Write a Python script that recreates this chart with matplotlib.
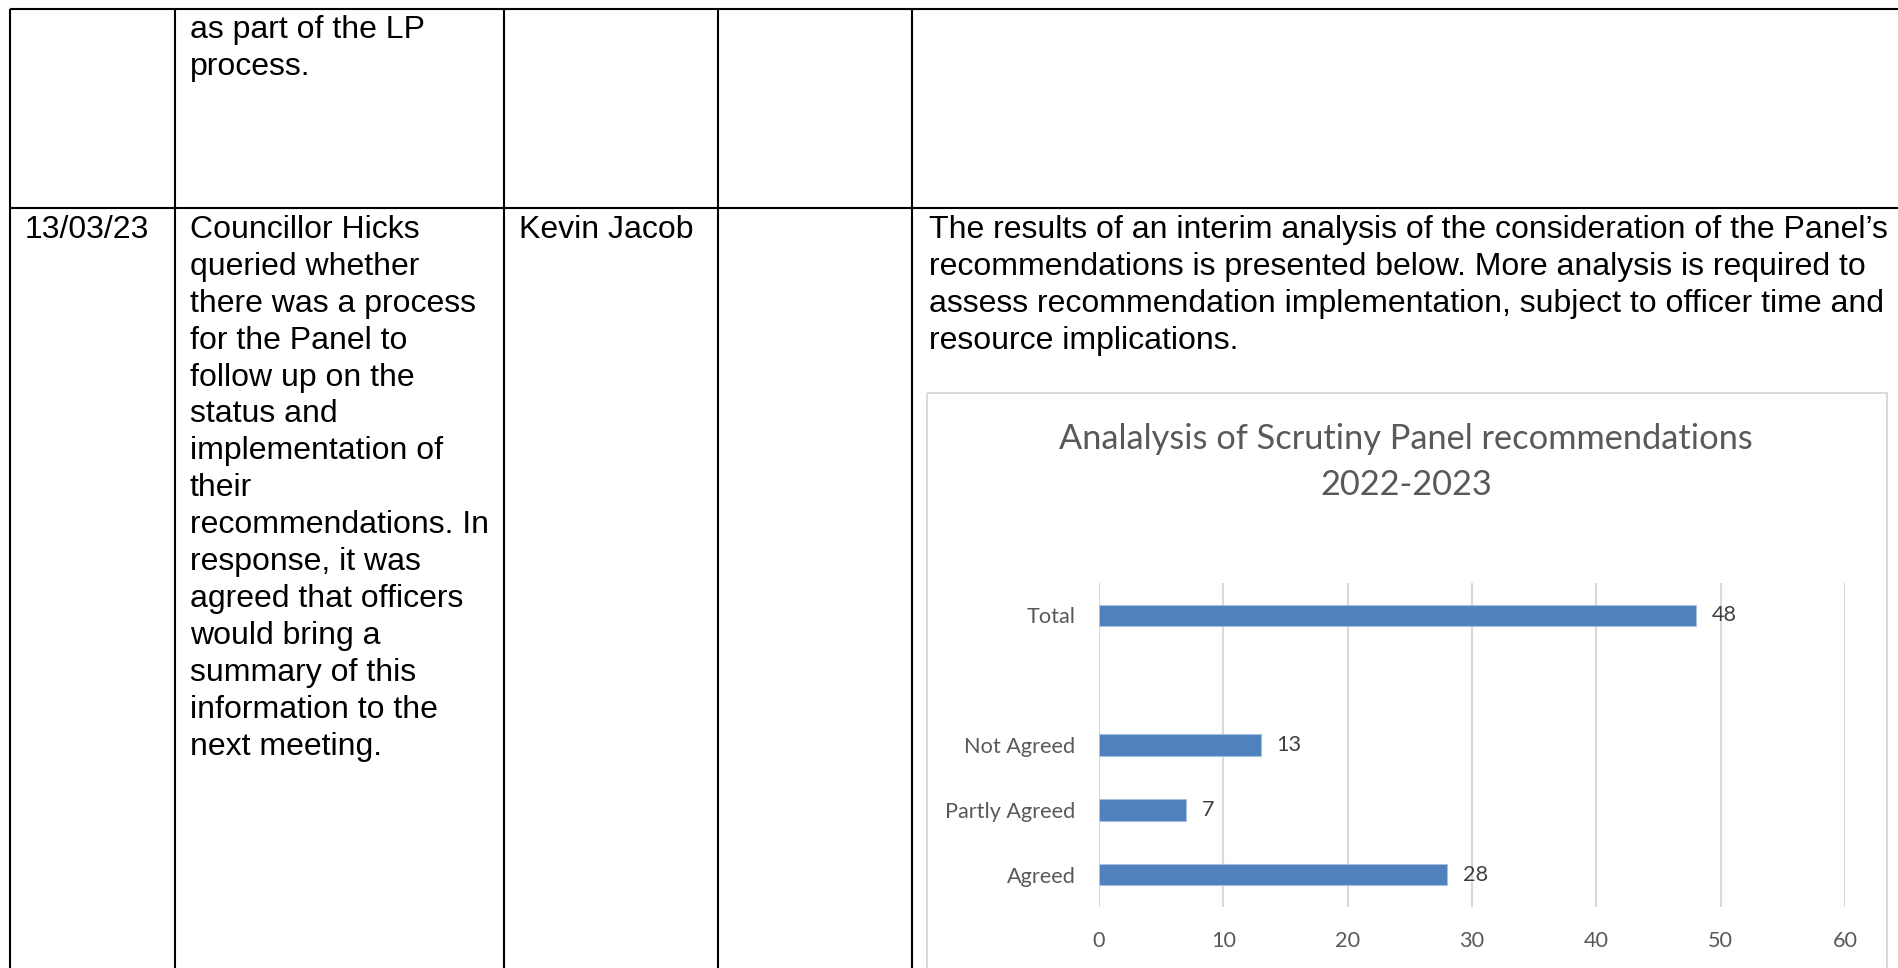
import matplotlib
matplotlib.use("Agg")
import matplotlib.pyplot as plt
from matplotlib.patches import Rectangle

# ---------------- data ----------------
categories = ["Agreed", "Partly Agreed", "Not Agreed", "", "Total"]
values = [28, 7, 13, None, 48]
x_ticks = [0, 10, 20, 30, 40, 50, 60]
title_lines = ["Analalysis of Scrutiny Panel recommendations", "2022-2023"]

row1_item = ["as part of the LP", "process."]
row2_date = ["13/03/23"]
row2_item = ["Councillor Hicks", "queried whether", "there was a process",
             "for the Panel to", "follow up on the", "status and",
             "implementation of", "their", "recommendations. In",
             "response, it was", "agreed that officers", "would bring a",
             "summary of this", "information to the", "next meeting."]
row2_owner = ["Kevin Jacob"]
row2_response = ["The results of an interim analysis of the consideration of the Panel\u2019s",
                 "recommendations is presented below. More analysis is required to",
                 "assess recommendation implementation, subject to officer time and",
                 "resource implications."]

# ---------------- layout ----------------
W, H, DPI = 1898, 968, 100
fig = plt.figure(figsize=(W / DPI, H / DPI), dpi=DPI)
fig.patch.set_facecolor("white")

page = fig.add_axes([0, 0, 1, 1])
page.set_xlim(0, W)
page.set_ylim(H, 0)
page.axis("off")

TXT_FONT = "Liberation Sans"
TXT_SIZE = 23.0
LINE = 36.9
LW = 1.5

# table rules
col_x = [10, 175, 504, 718, 912]
top_y, sep_y = 9, 208
page.plot([10, W], [top_y, top_y], color="black", lw=LW, solid_capstyle="butt")
page.plot([10, W], [sep_y, sep_y], color="black", lw=LW, solid_capstyle="butt")
for cx in col_x:
    page.plot([cx, cx], [top_y, H], color="black", lw=LW, solid_capstyle="butt")


def put_lines(x, y0, lines):
    for i, s in enumerate(lines):
        page.text(x, y0 + i * LINE, s, family=TXT_FONT, fontsize=TXT_SIZE,
                  color="black", va="baseline", ha="left")


put_lines(col_x[1] + 15, 38, row1_item)
put_lines(col_x[0] + 15, 238, row2_date)
put_lines(col_x[1] + 15, 238, row2_item)
put_lines(col_x[2] + 15, 238, row2_owner)
put_lines(col_x[4] + 17, 238, row2_response)

# chart frame
page.add_patch(Rectangle((927, 393), 1887 - 927, H + 20 - 393, fill=False,
                         edgecolor="#D9D9D9", lw=1.4))

CH_FONT = "Lato"
renderer = fig.canvas.get_renderer()


def fit_size(s, target_px, base=20.0):
    t = fig.text(0, 0, s, fontsize=base, family=CH_FONT)
    w = t.get_window_extent(renderer=renderer).width
    t.remove()
    return base * target_px / w


title_size = fit_size(title_lines[0], 694)
label_size = fit_size("Partly Agreed", 130)

page.text(1406, 449, title_lines[0], family=CH_FONT, fontsize=title_size,
          color="#595959", ha="center", va="baseline")
page.text(1406, 495, title_lines[1], family=CH_FONT, fontsize=title_size,
          color="#595959", ha="center", va="baseline")

# plot area
x0, x1, y0, y1 = 1099, 1845, 583, 907
ax = fig.add_axes([x0 / W, 1 - y1 / H, (x1 - x0) / W, (y1 - y0) / H])
ax.set_facecolor("none")
ax.set_xlim(x_ticks[0], x_ticks[-1])
ax.set_ylim(-0.5, len(categories) - 0.5)

ypos = list(range(len(categories)))
bar_y = [y for y, v in zip(ypos, values) if v is not None]
bar_v = [v for v in values if v is not None]
ax.barh(bar_y, bar_v, height=0.335, color="#4F81BD", edgecolor="#A7C0E0",
        linewidth=0.8, zorder=3)

for y, v in zip(bar_y, bar_v):
    ax.annotate(str(v), xy=(v, y), xytext=(11.5, 0), textcoords="offset points",
                va="center", ha="left", family=CH_FONT, fontsize=label_size,
                color="#404040")

ax.set_xticks(x_ticks)
ax.set_xticklabels([str(t) for t in x_ticks])
ax.set_yticks(ypos)
ax.set_yticklabels(categories)
ax.tick_params(axis="both", length=0, labelcolor="#595959", labelsize=label_size)
ax.tick_params(axis="y", pad=17)
ax.tick_params(axis="x", pad=17)
for lab in ax.get_xticklabels() + ax.get_yticklabels():
    lab.set_family(CH_FONT)
for sp in ax.spines.values():
    sp.set_visible(False)
ax.grid(axis="x", color="#D9D9D9", lw=1.5, zorder=0)
ax.set_axisbelow(True)

fig.savefig("out.png", dpi=DPI, facecolor="white")
